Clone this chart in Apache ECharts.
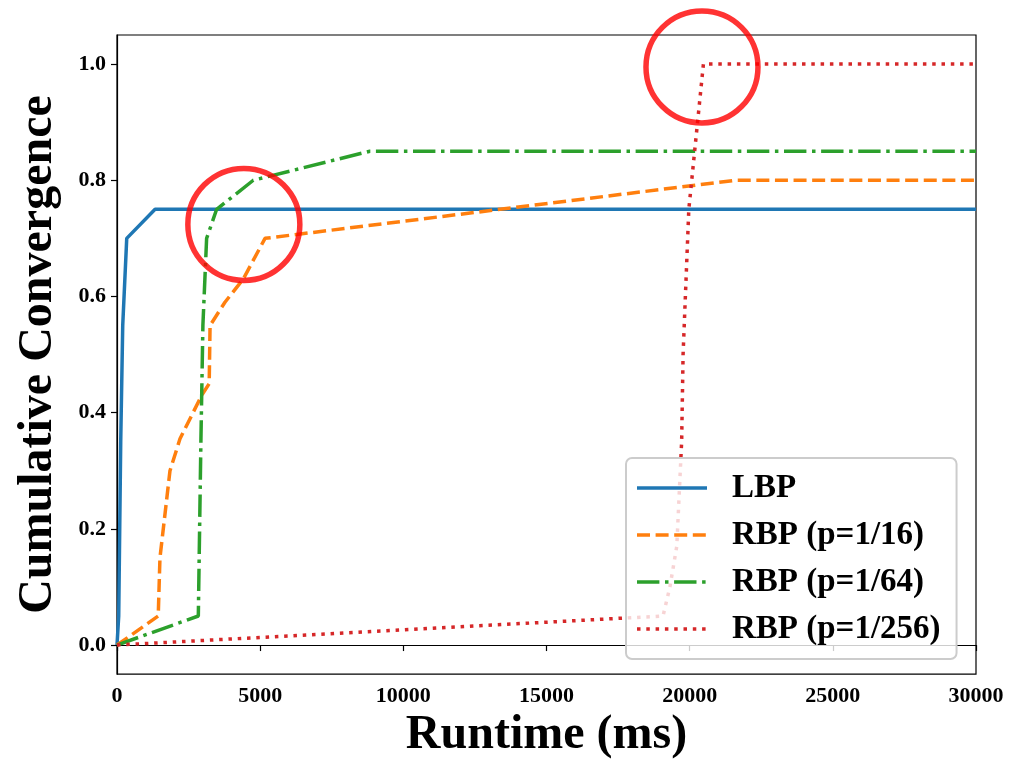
<!DOCTYPE html>
<html>
<head>
<meta charset="utf-8">
<style>html,body{margin:0;padding:0;background:#fff}#c{width:1010px;height:765px}</style>
<script src="https://cdn.jsdelivr.net/npm/echarts@6/dist/echarts.min.js"></script>
</head>
<body>
<div id="c"></div>
<script>
// ---- data ----
const seriesNames = ['LBP', 'RBP (p=1/16)', 'RBP (p=1/64)', 'RBP (p=1/256)'];
const lbpX = [0, 60, 130, 200, 340, 1330, 30000];
const lbpY = [0, 0.05, 0.35, 0.55, 0.70, 0.75, 0.75];
const rbp16X = [0, 1440, 1500, 1850, 2200, 2960, 3220, 3250, 3770, 4410, 5170, 21600, 30000];
const rbp16Y = [0, 0.05, 0.15, 0.30, 0.355, 0.43, 0.45, 0.55, 0.59, 0.63, 0.70, 0.80, 0.80];
const rbp64X = [0, 2840, 2930, 3000, 3130, 3480, 4760, 8830, 30000];
const rbp64Y = [0, 0.05, 0.35, 0.55, 0.70, 0.75, 0.80, 0.85, 0.85];
const rbp256X = [0, 19070, 19310, 19550, 19720, 19770, 19970, 20480, 30000];
const rbp256Y = [0, 0.05, 0.10, 0.17, 0.35, 0.50, 0.75, 1.0, 1.0];
const circleX = [4430, 20430];
const circleY = [0.724, 0.995];
const yTicks = [0, 0.2, 0.4, 0.6, 0.8, 1.0];

const zip = (xs, ys) => xs.map((x, i) => [x, ys[i]]);
const FONT = '"Liberation Serif", "Times New Roman", serif';
const colors = ['#1f77b4', '#ff7f0e', '#2ca02c', '#d62728'];
const LW = 3.5;
const dashes = [null, [13, 5.6], [22.4, 5.6, 3.5, 5.6], [3.5, 5.8]];
const xs = [lbpX, rbp16X, rbp64X, rbp256X];
const ys = [lbpY, rbp16Y, rbp64Y, rbp256Y];
const ICON_W = 70;

// legend icon: line drawn as filled rectangles following the dash pattern
function iconPath(pattern) {
  if (!pattern) return 'path://M0,0h' + ICON_W + 'v' + LW + 'h-' + ICON_W + 'z';
  let p = '', pos = 0, k = 0;
  while (pos < ICON_W) {
    const len = pattern[k % pattern.length];
    if (k % 2 === 0) {
      const end = Math.min(pos + len, ICON_W);
      p += 'M' + pos + ',0H' + end + 'V' + LW + 'H' + pos + 'Z';
    }
    pos += len; k++;
  }
  // invisible extent marker to keep full width
  p += 'M' + (ICON_W - 0.01) + ',0H' + ICON_W + 'V0.001Z';
  return 'path://' + p;
}

const lineSeries = seriesNames.map((n, i) => ({
  name: n,
  type: 'line',
  data: zip(xs[i], ys[i]),
  showSymbol: false,
  symbol: 'none',
  animation: false,
  z: 2 + i,
  lineStyle: { color: colors[i], width: LW, type: dashes[i] || 'solid', cap: 'butt' },
  itemStyle: { color: colors[i] },
  emphasis: { disabled: true }
}));

const chart = echarts.init(document.getElementById('c'), null, { renderer: 'canvas' });
chart.setOption({
  backgroundColor: '#fff',
  animation: false,
  grid: { left: 117, right: 34, top: 35, bottom: 89, show: true, borderColor: '#000', borderWidth: 1.2, backgroundColor: 'transparent' },
  xAxis: {
    type: 'value', min: 0, max: 30000, interval: 5000,
    name: 'Runtime (ms)', nameLocation: 'middle', nameGap: 32,
    nameTextStyle: { fontFamily: FONT, fontWeight: 'bold', fontSize: 48, color: '#000' },
    axisLine: { show: true, lineStyle: { color: '#000', width: 1.2 } },
    axisTick: { show: true, inside: false, length: 6, lineStyle: { color: '#000', width: 1.2 } },
    axisLabel: { fontFamily: FONT, fontWeight: 'bold', fontSize: 22, color: '#000', margin: 11, formatter: v => String(v) },
    splitLine: { show: false }
  },
  yAxis: {
    type: 'value', min: -0.05, max: 1.05,
    name: 'Cumulative Convergence', nameLocation: 'middle', nameGap: 54,
    nameTextStyle: { fontFamily: FONT, fontWeight: 'bold', fontSize: 48, color: '#000' },
    axisLine: { show: true, lineStyle: { color: '#000', width: 1.2 } },
    axisTick: { show: true, inside: false, length: 6, customValues: yTicks, lineStyle: { color: '#000', width: 1.2 } },
    axisLabel: { fontFamily: FONT, fontWeight: 'bold', fontSize: 22, color: '#000', margin: 11, customValues: yTicks, formatter: v => v.toFixed(1) },
    splitLine: { show: false }
  },
  legend: {
    data: seriesNames.map((n, i) => ({ name: n, icon: iconPath(dashes[i]), itemStyle: { color: colors[i] } })),
    orient: 'vertical',
    left: 626, top: 458,
    padding: [11, 16, 11, 11],
    itemWidth: ICON_W, itemHeight: LW, itemGap: 9,
    borderColor: '#cccccc', borderWidth: 2, borderRadius: 6,
    backgroundColor: 'rgba(255,255,255,0.8)',
    textStyle: { fontFamily: FONT, fontWeight: 'bold', fontSize: 33, color: '#000', padding: [0, 0, 0, 20], lineHeight: 38 },
    selectedMode: false,
    z: 10
  },
  series: lineSeries.concat([{
    name: 'circles',
    type: 'scatter',
    data: zip(circleX, circleY),
    symbol: 'circle',
    symbolSize: 112,
    animation: false,
    z: 8,
    itemStyle: { color: 'rgba(0,0,0,0)', borderColor: '#ff0000', borderWidth: 5.5 },
    emphasis: { disabled: true },
    silent: true
  }])
});
</script>
</body>
</html>
